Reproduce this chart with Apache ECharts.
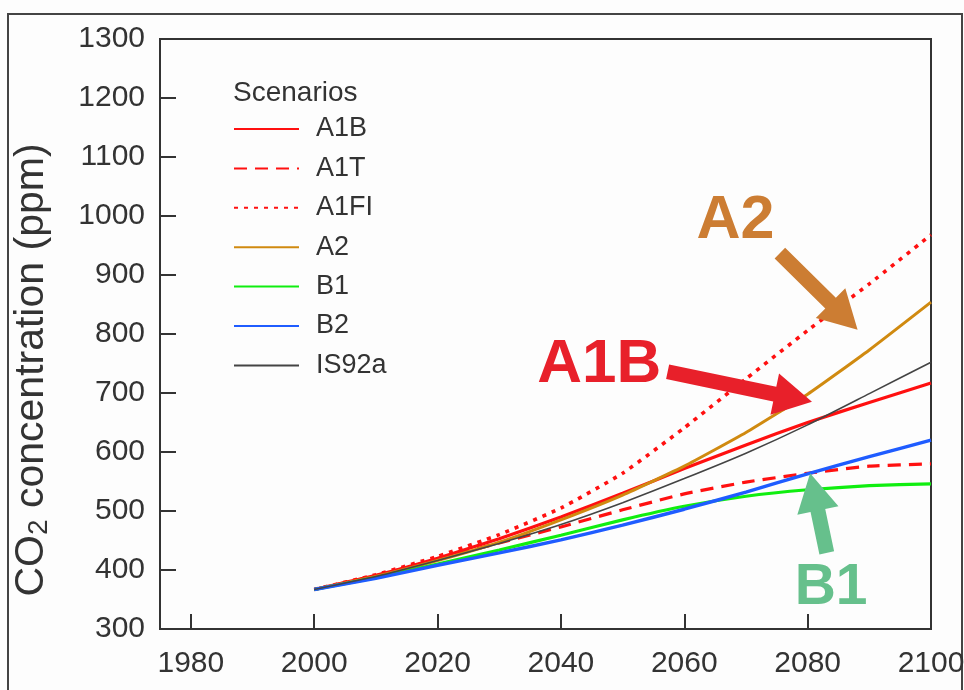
<!DOCTYPE html>
<html>
<head>
<meta charset="utf-8">
<script src="https://cdn.jsdelivr.net/npm/echarts@6/dist/echarts.min.js"></script>
<style>html,body{margin:0;padding:0;background:#fff;}#c{width:964px;height:690px;}</style>
</head>
<body>
<div id="c"></div>
<script>
// ---- data ----
const years = [2000, 2010, 2020, 2030, 2040, 2050, 2060, 2070, 2080, 2090, 2100];
const A1B   = [367, 391, 420, 453, 490, 530, 572, 612, 650, 684, 717];
const A1T   = [367, 390, 418, 446, 473, 502, 529, 549, 564, 576, 580];
const A1FI  = [367, 392, 423, 460, 505, 564, 641, 724, 806, 885, 968];
const A2    = [367, 389, 416, 447, 485, 527, 576, 633, 698, 773, 854];
const B1    = [367, 387, 410, 434, 459, 485, 508, 525, 536, 543, 546];
const B2    = [367, 386, 408, 429, 451, 476, 503, 532, 563, 592, 620];
const IS92a = [367, 389, 416, 445, 477, 514, 555, 598, 646, 699, 752];
const xTicks = [1980, 2000, 2020, 2040, 2060, 2080, 2100];
const yTicks = [300, 400, 500, 600, 700, 800, 900, 1000, 1100, 1200, 1300];
// annotation anchors in data coords
const annA2  = {text: 'A2',  at: [2068.3, 991], tail: [2075.5, 937], tip: [2088.1, 807]};
const annA1B = {text: 'A1B', at: [2046.2, 747], tail: [2057.3, 736], tip: [2080.7, 685]};
const annB1  = {text: 'B1',  at: [2083.8, 369], tail: [2083.1, 429], tip: [2080.4, 564]};

const FONT = "'Liberation Sans', Arial, Helvetica, sans-serif";
const pair = arr => years.map((y, i) => [y, arr[i]]);

function line(name, arr, color, type, width) {
  return {
    name, type: 'line', data: pair(arr), symbol: 'none', smooth: 0.15,
    lineStyle: {color, type, width}, itemStyle: {color},
    emphasis: {disabled: true}, z: 3
  };
}

const chart = echarts.init(document.getElementById('c'), null, {renderer: 'canvas'});
const option = {
  animation: false,
  backgroundColor: '#fdfdfd',
  textStyle: {fontFamily: FONT},
  title: {
    text: 'Scenarios', left: 228, top: 74,
    textStyle: {fontFamily: FONT, fontSize: 28, fontWeight: 'normal', color: '#333'}
  },
  legend: {
    orient: 'vertical', left: 233, top: 115, padding: 0,
    itemWidth: 65, itemHeight: 14, itemGap: 11.4,
    data: ['A1B', 'A1T', 'A1FI', 'A2', 'B1', 'B2', 'IS92a'],
    itemStyle: {color: 'rgba(0,0,0,0)', borderWidth: 0, opacity: 0},
    textStyle: {fontFamily: FONT, fontSize: 27, color: '#333', lineHeight: 28, padding: [0, 0, 0, 12]},
    selectedMode: false
  },
  grid: {
    left: 160, right: 33, top: 39, bottom: 61, outerBoundsMode: 'none', containLabel: false,
    show: true, borderColor: '#333', borderWidth: 2, backgroundColor: 'transparent'
  },
  xAxis: {
    type: 'value', min: 1975, max: 2100,
    axisLine: {show: true, lineStyle: {color: '#333', width: 2}},
    axisTick: {show: true, inside: true, length: 15, customValues: xTicks, lineStyle: {color: '#333', width: 2}},
    axisLabel: {customValues: xTicks, fontSize: 30, color: '#333', margin: 20, fontFamily: FONT,
      formatter: v => String(v)},
    splitLine: {show: false}
  },
  yAxis: {
    type: 'value', min: 300, max: 1300, interval: 100,
    name: 'CO{sub|2} concentration (ppm)', nameLocation: 'middle', nameGap: 107, nameRotate: 90,
    nameTextStyle: {
      fontFamily: FONT, fontSize: 41, color: '#333', padding: [0, 72, 0, 0],
      rich: {sub: {fontSize: 28, fontFamily: FONT, color: '#333', verticalAlign: 'bottom', padding: [15, 0, 0, 0]}}
    },
    axisLine: {show: true, lineStyle: {color: '#333', width: 2}},
    axisTick: {show: true, inside: true, length: 16, lineStyle: {color: '#333', width: 2}},
    axisLabel: {fontSize: 30, color: '#333', margin: 15, fontFamily: FONT, formatter: v => String(v)},
    splitLine: {show: false}
  },
  series: [
    line('A1B', A1B, '#ff1010', 'solid', 3.2),
    line('A1T', A1T, '#ff1010', [13, 8], 3.2),
    line('A1FI', A1FI, '#ff1010', [4, 6], 3.6),
    line('A2', A2, '#d08a10', 'solid', 3),
    line('B1', B1, '#10ee10', 'solid', 3.2),
    line('B2', B2, '#1f5cff', 'solid', 3.4),
    line('IS92a', IS92a, '#444444', 'solid', 1.6)
  ]
};
chart.setOption(option);

function arrowPoly(p0, p1, w, hw, hl) {
  const dx = p1[0] - p0[0], dy = p1[1] - p0[1];
  const len = Math.hypot(dx, dy);
  const ux = dx / len, uy = dy / len;
  const nx = -uy, ny = ux;
  const bx = p1[0] - ux * hl, by = p1[1] - uy * hl;
  return [
    [p0[0] + nx * w / 2, p0[1] + ny * w / 2],
    [bx + nx * w / 2, by + ny * w / 2],
    [bx + nx * hw / 2, by + ny * hw / 2],
    [p1[0], p1[1]],
    [bx - nx * hw / 2, by - ny * hw / 2],
    [bx - nx * w / 2, by - ny * w / 2],
    [p0[0] - nx * w / 2, p0[1] - ny * w / 2]
  ];
}
function ann(a, color, size) {
  const c = chart.convertToPixel({gridIndex: 0}, a.at);
  const t = chart.convertToPixel({gridIndex: 0}, a.tail);
  const h = chart.convertToPixel({gridIndex: 0}, a.tip);
  return [
    {type: 'text', x: c[0], y: c[1], z: 10,
     style: {text: a.text, fill: color, font: 'bold ' + size + 'px ' + FONT, align: 'center', verticalAlign: 'middle'}},
    {type: 'polygon', z: 10, shape: {points: arrowPoly(t, h, 15, 42, 38)}, style: {fill: color}}
  ];
}
chart.setOption({
  graphic: [
    {type: 'rect', z: 0, shape: {x: 8, y: 14, width: 954, height: 700},
     style: {fill: 'none', stroke: '#444', lineWidth: 2}},
    ...ann(annA2, '#cc7d33', 61),
    ...ann(annA1B, '#e8202a', 62),
    ...ann(annB1, '#66c08c', 57)
  ]
});
</script>
</body>
</html>
